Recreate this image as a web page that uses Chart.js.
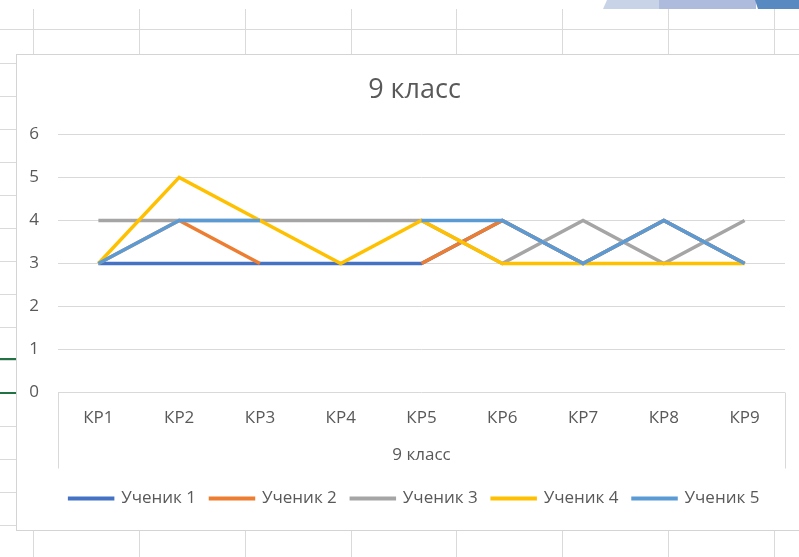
<!DOCTYPE html>
<html>
<head>
  <meta charset="utf-8">
  <title>9 класс</title>
  <script src="https://cdn.jsdelivr.net/npm/chart.js"></script>
  <style>
    html, body { margin: 0; background: #fff; overflow: hidden; }
  </style>
</head>
<body>
<canvas id="chart" width="830" height="557"></canvas>

<script>
const categories = ["КР1", "КР2", "КР3", "КР4", "КР5", "КР6", "КР7", "КР8", "КР9"];
const seriesNames = ["Ученик 1", "Ученик 2", "Ученик 3", "Ученик 4", "Ученик 5"];
const uchenik1 = [3, 3, 3, 3, 3, 4, 3, 4, 3];
const uchenik2 = [3, 4, 3, null, 3, 4, 3, 4, 3];
const uchenik3 = [4, 4, 4, 4, 4, 3, 4, 3, 4];
const uchenik4 = [3, 5, 4, 3, 4, 3, 3, 3, 3];
const uchenik5 = [3, 4, 4, null, 4, 4, 3, 4, 3];
const yTicks = [0, 1, 2, 3, 4, 5, 6];
const chartTitle = "9 класс";
const axisTitle = "9 класс";

const colors = ["#4472C4", "#ED7D31", "#A5A5A5", "#FFC000", "#5B9BD5"];
const FONT = "'Open Sans', 'Noto Sans', sans-serif";
const TEXT = "#595959";
const GRID = "#d9d9d9";

// spreadsheet cells behind the chart object
const sheetBackground = {
  id: "sheetBackground",
  beforeDraw(chart) {
    const ctx = chart.ctx;
    ctx.save();
    ctx.fillStyle = "#fff";
    ctx.fillRect(0, 0, 830, 557);

    // shapes peeking in at the top right
    ctx.fillStyle = "#c9d3e8";
    ctx.beginPath();
    ctx.moveTo(603, 9); ctx.lineTo(607, 0); ctx.lineTo(660, 0); ctx.lineTo(660, 9); ctx.fill();
    ctx.fillStyle = "#aebbdc";
    ctx.fillRect(659, 0, 97, 9);
    ctx.fillStyle = "#5889c0";
    ctx.beginPath();
    ctx.moveTo(755, 0); ctx.lineTo(830, 0); ctx.lineTo(830, 9); ctx.lineTo(758, 9); ctx.fill();

    ctx.strokeStyle = "#dadada";
    ctx.lineWidth = 1;
    const cols = [33, 139, 245, 351, 456, 562, 668, 774];
    cols.forEach(x => {
      ctx.beginPath();
      ctx.moveTo(x + 0.5, 9); ctx.lineTo(x + 0.5, 54);
      ctx.moveTo(x + 0.5, 530); ctx.lineTo(x + 0.5, 557);
      ctx.stroke();
    });
    ctx.beginPath();
    ctx.moveTo(0, 29.5); ctx.lineTo(830, 29.5);
    ctx.stroke();
    for (let y = 63; y < 557; y += 33) {
      ctx.beginPath();
      ctx.moveTo(0, y + 0.5); ctx.lineTo(16, y + 0.5);
      ctx.stroke();
    }
    ctx.strokeStyle = "#217346";
    ctx.lineWidth = 2;
    [359, 393].forEach(y => {
      ctx.beginPath();
      ctx.moveTo(0, y); ctx.lineTo(16, y);
      ctx.stroke();
    });

    // chart object frame
    ctx.fillStyle = "#fff";
    ctx.fillRect(16, 54, 814, 476);
    ctx.strokeStyle = "#d4d4d4";
    ctx.lineWidth = 1;
    ctx.strokeRect(16.5, 54.5, 796, 476);
    ctx.restore();
  },
  afterDraw(chart) {
    // outer frame of the category axis
    const ctx = chart.ctx;
    const area = chart.chartArea;
    const frameBottom = area.bottom + 76;
    ctx.save();
    ctx.strokeStyle = GRID;
    ctx.lineWidth = 1;
    ctx.beginPath();
    ctx.moveTo(Math.round(area.left) + 0.5, area.bottom);
    ctx.lineTo(Math.round(area.left) + 0.5, frameBottom);
    ctx.moveTo(Math.round(area.right) + 0.5, area.bottom);
    ctx.lineTo(Math.round(area.right) + 0.5, frameBottom);
    ctx.stroke();
    ctx.restore();
  }
};

const seriesData = [uchenik1, uchenik2, uchenik3, uchenik4, uchenik5];

new Chart(document.getElementById("chart"), {
  type: "line",
  data: {
    labels: categories,
    datasets: seriesData.map((d, i) => ({
      label: seriesNames[i],
      data: d,
      yAxisID: "y",
      borderColor: colors[i],
      backgroundColor: colors[i],
      borderWidth: 3.5,
      pointRadius: 0,
      tension: 0,
      spanGaps: false,
      order: seriesData.length - i
    }))
  },
  options: {
    responsive: false,
    animation: false,
    layout: { padding: { left: 16, right: 17, top: 74, bottom: 40 } },
    plugins: {
      tooltip: { enabled: false },
      title: {
        display: true,
        text: chartTitle,
        color: TEXT,
        font: { family: FONT, size: 27, weight: "normal" },
        padding: { top: 0, bottom: 28 }
      },
      legend: {
        position: "bottom",
        labels: {
          color: TEXT,
          font: { family: FONT, size: 17 },
          boxWidth: 43,
          boxHeight: 0.5,
          padding: 14.5,
          sort: (a, b) => a.datasetIndex - b.datasetIndex
        }
      }
    },
    scales: {
      x: {
        offset: true,
        grid: { display: false, drawTicks: false },
        border: { display: false },
        ticks: { color: TEXT, font: { family: FONT, size: 17 }, padding: 15.5 },
        title: {
          display: true,
          text: axisTitle,
          color: TEXT,
          font: { family: FONT, size: 17 },
          padding: { top: 0, bottom: 10 }
        },
        afterFit(scale) { scale.height = 83; }
      },
      y: {
        min: yTicks[0],
        max: yTicks[yTicks.length - 1],
        ticks: { stepSize: 1, color: TEXT, font: { family: FONT, size: 17 }, padding: 19 },
        grid: { color: GRID, drawTicks: false },
        border: { display: false },
        afterFit(scale) { scale.width = 42; }
      },
      // empty strip on the right, the chart object runs past the window edge
      yRight: {
        position: "right",
        min: 0,
        max: 1,
        grid: { display: false, drawTicks: false },
        border: { display: false },
        ticks: { display: false },
        afterFit(scale) { scale.width = 28; }
      }
    }
  },
  plugins: [sheetBackground]
});
</script>
</body>
</html>
